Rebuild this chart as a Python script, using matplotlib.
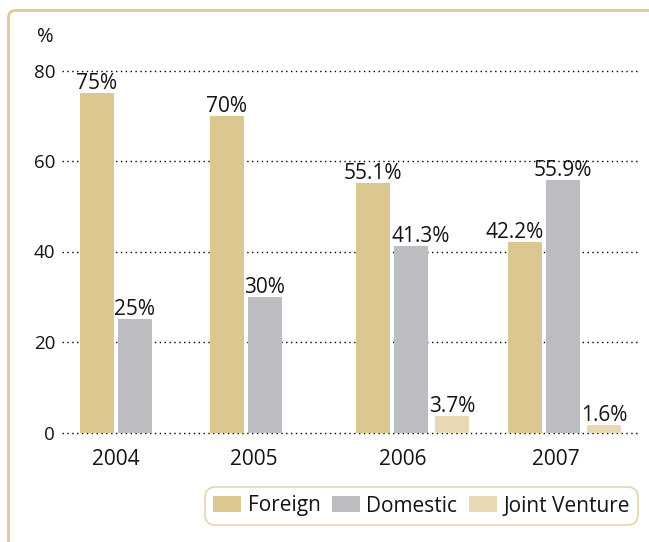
import matplotlib
matplotlib.use("Agg")
import matplotlib.pyplot as plt
from matplotlib.patches import FancyBboxPatch, Patch
import numpy as np

# ---- data ----
years = ["2004", "2005", "2006", "2007"]
series_names = ["Foreign", "Domestic", "Joint Venture"]
foreign = [75, 70, 55.1, 42.2]
domestic = [25, 30, 41.3, 55.9]
joint_venture = [0, 0, 3.7, 1.6]
value_labels = [
    ["75%", "70%", "55.1%", "42.2%"],
    ["25%", "30%", "41.3%", "55.9%"],
    ["", "", "3.7%", "1.6%"],
]
yticks = [0, 20, 40, 60, 80]

# ---- style / layout ----
colors = ["#DBC891", "#BCBDC1", "#E8D9B5"]
frame_color = "#DDCB96"
FONT = ["Open Sans", "DejaVu Sans"]
plt.rcParams["font.family"] = FONT

W, H, DPI = 649, 542, 100
fig = plt.figure(figsize=(W / DPI, H / DPI), dpi=DPI)

ax_left, ax_right, ax_bottom, ax_top = 62, 638, 432.5, 60
ax = fig.add_axes([ax_left / W, 1 - ax_bottom / H,
                   (ax_right - ax_left) / W, (ax_bottom - ax_top) / H])

unit = 38.0  # px per x-unit
group_pos = np.array([0.92, 4.34, 8.18, 12.18])
series_offset = [0.0, 1.0, 2.08]
label_pos = np.array([1.42, 5.05, 8.97, 13.0])
label_nudge = [[0, 0, 0, -10], [0, 0, 10, 0], [0, 0, 0, 0]]  # px
bar_w = 34 / unit

all_series = [foreign, domestic, joint_venture]
for si, vals in enumerate(all_series):
    xs = group_pos + series_offset[si]
    ax.bar(xs, vals, width=bar_w, color=colors[si], zorder=2, linewidth=0)
    for gi, v in enumerate(vals):
        txt = value_labels[si][gi]
        if txt:
            ax.annotate(txt, (xs[gi], v), xytext=(label_nudge[si][gi], 4),
                        textcoords="offset pixels", ha="center", va="baseline",
                        fontsize=15, color="#141414", zorder=3)

ax.set_xlim(0, (ax_right - ax_left) / unit)
ymax = (ax_bottom - ax_top) / 4.525
ax.set_ylim(0, ymax)

ax.set_yticks(yticks)
ax.set_yticklabels([str(t) for t in yticks], fontsize=13.5, color="#141414")
ax.tick_params(axis="y", length=0, pad=5)
ax.set_xticks(label_pos)
ax.set_xticklabels(years, fontsize=15, color="#141414")
ax.tick_params(axis="x", length=0, pad=12)

for t in yticks:
    ax.axhline(t, color="#000000", linewidth=1.0, linestyle=(0, (1, 2.5)),
               zorder=1, clip_on=False)

for s in ax.spines.values():
    s.set_visible(False)

fig.text(37 / W, 1 - 37 / H, "%", fontsize=14.5, color="#141414", va="center", ha="left")

# frame with rounded top-left corner
frame = FancyBboxPatch((8.5, -50), 800, H - 10.5 + 50,
                       boxstyle="round,pad=0,rounding_size=7",
                       transform=None, fill=False, edgecolor=frame_color,
                       linewidth=2.0, zorder=0)
fig.patches.append(frame)

handles = [Patch(facecolor=c, edgecolor="none", label=n) for c, n in zip(colors, series_names)]
leg = fig.legend(handles=handles, loc="center",
                 bbox_to_anchor=(421.5 / W, 1 - 506 / H), ncol=3, fontsize=15,
                 frameon=True, fancybox=True, edgecolor=frame_color,
                 handlelength=1.35, handleheight=0.8, handletextpad=0.3,
                 columnspacing=0.55, borderpad=0.4)
leg.get_frame().set_linewidth(1.2)
leg.get_frame().set_boxstyle("round,pad=0,rounding_size=0.5")
for t in leg.get_texts():
    t.set_color("#141414")

fig.savefig("out.png", dpi=DPI)
